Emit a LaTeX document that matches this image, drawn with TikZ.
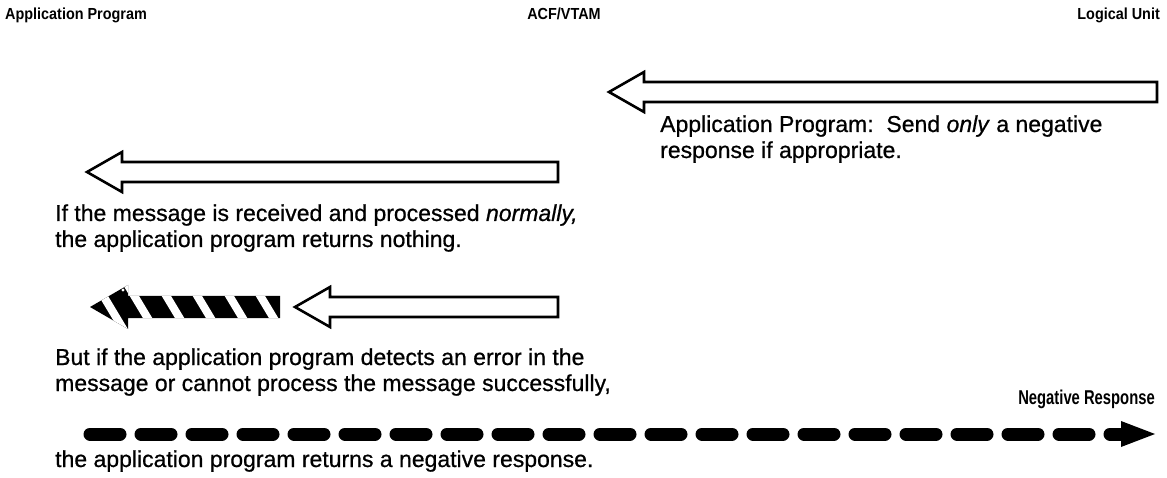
\documentclass[tikz,border=0pt]{standalone}
\usepackage{fontspec}
\setmainfont{Liberation Sans}
% body text is printed a little heavier than the regular weight
\newfontfamily\bodyfont{Liberation Sans}[FakeBold=0.7]
\usetikzlibrary{calc}

\tikzset{
  hollow/.style={draw=black, line width=2.6pt, fill=white, line join=miter},
  bodytext/.style={inner sep=0pt, anchor=base west, align=left,
    font=\bodyfont\fontsize{23}{26}\selectfont},
  headtext/.style={inner sep=0pt, font=\fontsize{16}{18}\selectfont\bfseries},
  labeltext/.style={inner sep=0pt, font=\fontsize{20}{22}\selectfont\bfseries},
  negline/.style={line width=13pt, line cap=round, dash pattern=on 30pt off 21pt},
}

% hollow block arrow: #1 = tail end, #2 = tip
\newcommand\hollowarrow[2]{%
  \draw[hollow] let \p1=(#1), \p2=(#2) in
    (\x2,\y2) -- (\x2+35pt,\y2+20pt) -- (\x2+35pt,\y2+10pt) -- (\x1,\y1+10pt)
    -- (\x1,\y1-10pt) -- (\x2+35pt,\y2-10pt) -- (\x2+35pt,\y2-20pt) -- cycle;}

\newcommand\condensed[2]{\scalebox{#1}[1]{#2}}

\begin{document}
\begin{tikzpicture}[x=1pt, y=-1pt]
\useasboundingbox (0,0) rectangle (1167,478);

% column headings
\node[headtext, anchor=base west] (hap) at (5,19.5) {\condensed{0.9}{Application Program}};
\node[headtext, anchor=base] (hvt) at (564,19.5) {\condensed{0.9}{ACF/VTAM}};
\node[headtext, anchor=base east] (hlu) at (1160,19.5) {\condensed{0.9}{Logical Unit}};

% request flowing from the logical unit
\coordinate (r1tail) at (1157,92);
\coordinate (r1tip) at (609,92);
\hollowarrow{r1tail}{r1tip}
% multi-line nodes sit on the baseline of their last line
\node[bodytext] (t1) at (660,158) {Application Program:\ \ Send \textit{only} a negative\\response if appropriate.};

% normal processing
\coordinate (r2tail) at (558,172);
\coordinate (r2tip) at (87,172);
\hollowarrow{r2tail}{r2tip}
\node[bodytext] (t2) at (55,247) {If the message is received and processed \textit{normally,}\\the application program returns nothing.};

% error detected
\coordinate (r3tail) at (558,307);
\coordinate (r3tip) at (295,307);
\hollowarrow{r3tail}{r3tip}
\coordinate (e3tip) at (90,307);
\begin{scope}[shift={(e3tip)}]
  \fill[black] (0,0) -- (38,-22) -- (38,-11) -- (190,-11) -- (190,11)
    -- (38,11) -- (38,22) -- cycle;
  \begin{scope}
    \clip (0,0) -- (38,-22) -- (38,-11) -- (190,-11) -- (190,11)
      -- (38,11) -- (38,22) -- cycle;
    \foreach \c in {20,51,83,114,146,177}
      \draw[white, line width=8pt] (\c-15,-25) -- (\c+15,25);
  \end{scope}
  \fill[white] (33,-17) circle (1.6);
\end{scope}
\node[bodytext] (t3) at (55,391) {But if the application program detects an error in the\\message or cannot process the message successfully,};

% negative response to the logical unit
\coordinate (nstart) at (90,434);
\coordinate (nhead) at (1121,434);
\coordinate (ntip) at (1155,434);
\draw[negline] (nstart) -- (nhead);
\fill[black] let \p1=(nhead), \p2=(ntip) in
  (\x1,\y1+13pt) -- (\p2) -- (\x1,\y1-13pt) -- cycle;
\node[labeltext, anchor=base east] (nlab) at (1155,404) {\condensed{0.74}{Negative Response}};
\node[bodytext] (t4) at (55,467) {the application program returns a negative response.};
\end{tikzpicture}
\end{document}
